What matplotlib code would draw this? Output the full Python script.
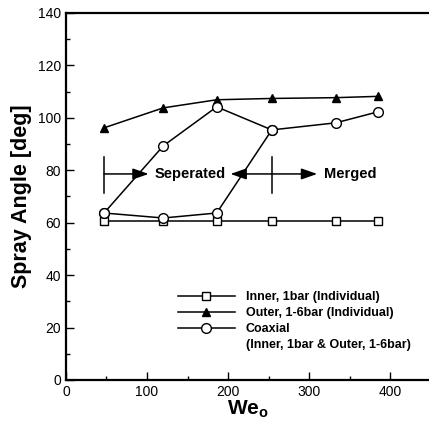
import matplotlib
matplotlib.use("Agg")
import matplotlib.pyplot as plt
from matplotlib.ticker import MultipleLocator
from matplotlib.lines import Line2D

plt.rcParams['font.family'] = ['Liberation Sans', 'DejaVu Sans']
plt.rcParams['mathtext.fontset'] = 'custom'
plt.rcParams['mathtext.bf'] = 'Liberation Sans:bold'
plt.rcParams['mathtext.rm'] = 'Liberation Sans'

# Data
we_x = [47, 120, 186, 254, 333, 385]
inner_y = [60.5, 60.5, 60.5, 60.5, 60.5, 60.5]
outer_y = [96.2, 103.8, 106.9, 107.4, 107.7, 108.2]
coax_up_x = [47, 120, 186, 254, 333, 385]
coax_up_y = [63.7, 89.3, 104.2, 95.4, 98.1, 102.3]
coax_low_x = [47, 120, 186, 254]
coax_low_y = [63.7, 61.8, 63.7, 95.4]

labels = ["Inner, 1bar (Individual)", "Outer, 1-6bar (Individual)",
          "Coaxial", "(Inner, 1bar & Outer, 1-6bar)"]

fig = plt.figure(figsize=(4.29, 4.26), dpi=100)
ax = fig.add_axes([0.1538, 0.108, 0.85, 0.8615])

lw = 1.1
h1, = ax.plot(we_x, inner_y, color='black', lw=lw, marker='s', ms=5.5,
              mfc='white', mec='black', mew=1.0, zorder=3)
h2, = ax.plot(we_x, outer_y, color='black', lw=lw, marker='^', ms=6,
              mfc='black', mec='black', zorder=3)
ax.plot(coax_low_x, coax_low_y, color='black', lw=lw, marker='o', ms=7,
        mfc='white', mec='black', mew=1.0, zorder=4)
h3, = ax.plot(coax_up_x, coax_up_y, color='black', lw=lw, marker='o', ms=7,
              mfc='white', mec='black', mew=1.0, zorder=4)
h4 = Line2D([], [], color='none')

# Annotations: separated / merged
ya = 78.6
ax.plot([47, 47], [71.5, 85], color='black', lw=1.1)
ax.plot([254, 254], [71.5, 85], color='black', lw=1.1)
ap = dict(arrowstyle='-|>,head_length=0.8,head_width=0.28', color='black', lw=1.1,
          shrinkA=0, shrinkB=0, mutation_scale=12)
ax.annotate('', xy=(102, ya), xytext=(47, ya), arrowprops=ap)
ax.annotate('', xy=(203, ya), xytext=(254, ya), arrowprops=ap)
ax.annotate('', xy=(310, ya), xytext=(254, ya), arrowprops=ap)
ax.text(109, ya, 'Seperated', fontsize=10.5, fontweight='bold', va='center', ha='left')
ax.text(319, ya, 'Merged', fontsize=10.5, fontweight='bold', va='center', ha='left')

ax.set_xlim(0, 450)
ax.set_ylim(0, 140)
ax.xaxis.set_major_locator(MultipleLocator(100))
ax.xaxis.set_minor_locator(MultipleLocator(50))
ax.yaxis.set_major_locator(MultipleLocator(20))
ax.yaxis.set_minor_locator(MultipleLocator(10))
ax.tick_params(which='both', direction='in', top=False, right=False,
               labelsize=10, width=1.0)
ax.tick_params(which='major', length=6)
ax.tick_params(which='minor', length=3)
for s in ax.spines.values():
    s.set_linewidth(1.6)

ax.set_ylabel('Spray Angle [deg]', fontsize=15.5, fontweight='bold', labelpad=4)
ax.set_xlabel(r'$\mathbf{We_o}$', fontsize=15, labelpad=0)

leg = ax.legend([h1, h2, h3, h4], labels, loc='upper left',
                bbox_to_anchor=(0.306, 0.242), borderaxespad=0, frameon=False,
                prop={'size': 9, 'weight': 'bold'}, handlelength=4.6,
                handletextpad=0.85, labelspacing=0.32, borderpad=0)

fig.savefig('out.png', dpi=100)
